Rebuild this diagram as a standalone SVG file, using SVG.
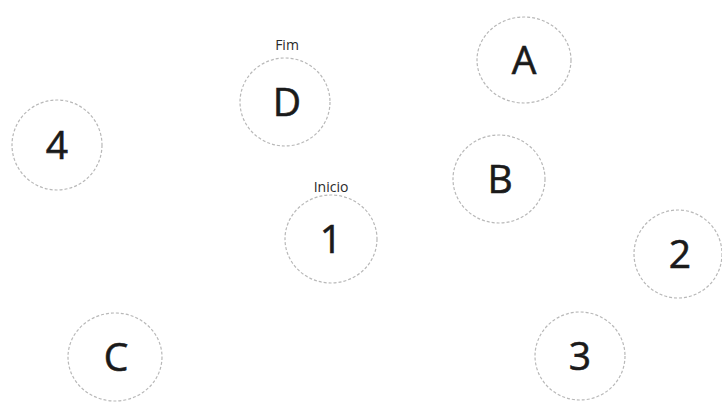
<svg xmlns="http://www.w3.org/2000/svg" width="722" height="402" viewBox="0 0 722 402">
<style>
.n{fill:#ffffff;stroke:#b8b8b8;stroke-width:1.2;stroke-dasharray:3 2}
.t{font-family:"Open Sans","Liberation Sans",sans-serif;font-size:39px;fill:#1a1a1a;stroke:#1a1a1a;stroke-width:0.6;text-anchor:middle}
.l{font-family:"Open Sans","Liberation Sans",sans-serif;font-size:14px;fill:#2a2a2a;text-anchor:middle}
</style>
<rect width="722" height="402" fill="#ffffff"/>
<g id="connectors"></g>
<g id="node-D"><ellipse class="n" cx="285" cy="102" rx="45" ry="44"/><text class="t" x="287" y="116">D</text><text class="l" x="287" y="50">Fim</text></g>
<g id="node-A"><ellipse class="n" cx="524" cy="60" rx="47" ry="43"/><text class="t" x="524" y="74">A</text></g>
<g id="node-4"><ellipse class="n" cx="57" cy="145" rx="45" ry="45"/><text class="t" x="57" y="159">4</text></g>
<g id="node-B"><ellipse class="n" cx="499" cy="179" rx="46" ry="44"/><text class="t" x="500" y="193">B</text></g>
<g id="node-1"><ellipse class="n" cx="331" cy="239" rx="46" ry="44"/><text class="t" x="331" y="253">1</text><text class="l" x="331" y="192">Inicio</text></g>
<g id="node-2"><ellipse class="n" cx="678" cy="254" rx="44" ry="44"/><text class="t" x="680" y="268">2</text></g>
<g id="node-3"><ellipse class="n" cx="580" cy="356" rx="45" ry="44"/><text class="t" x="580" y="370">3</text></g>
<g id="node-C"><ellipse class="n" cx="115" cy="357" rx="47" ry="44"/><text class="t" x="116" y="371">C</text></g>
</svg>
